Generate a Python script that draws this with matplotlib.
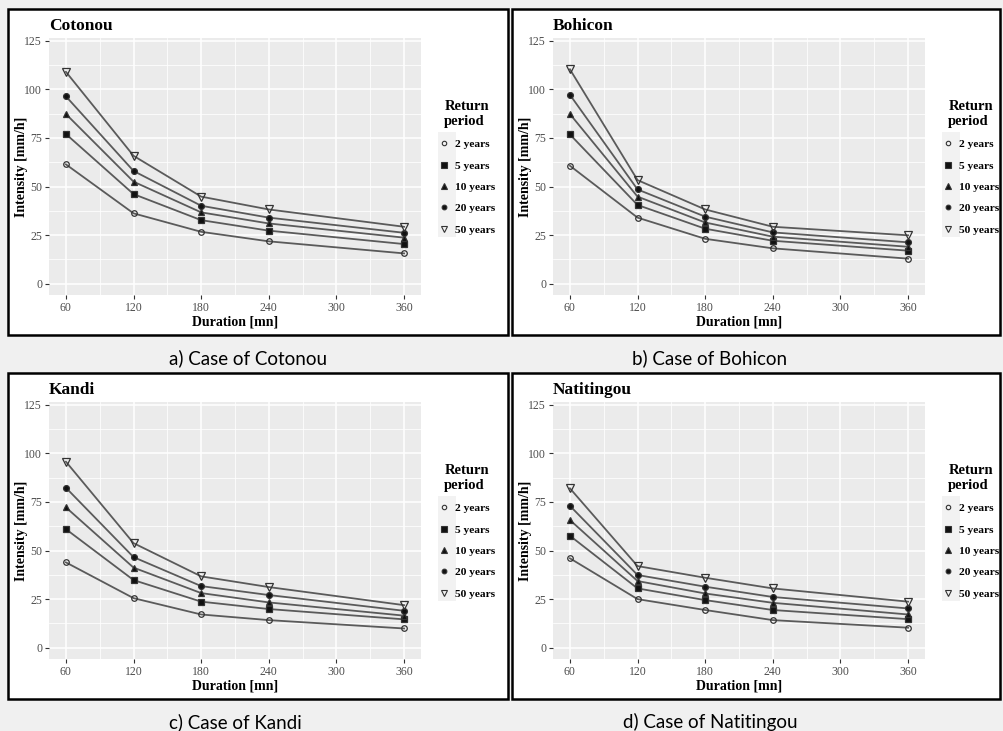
import matplotlib
matplotlib.use("Agg")
import matplotlib.pyplot as plt
from matplotlib.patches import Rectangle
from matplotlib.lines import Line2D

# ------------------------ data ------------------------
durations = [60, 120, 180, 240, 360]
periods = ['2 years', '5 years', '10 years', '20 years', '50 years']

# one list per return period (2, 5, 10, 20, 50 years)
cotonou = [[61.4, 36.2, 26.7, 21.8, 15.6],
           [77.0, 46.1, 32.7, 27.3, 20.4],
           [87.3, 52.5, 36.7, 31.0, 23.7],
           [96.4, 58.0, 40.1, 34.0, 26.2],
           [109.0, 65.8, 44.8, 38.2, 29.3]]
bohicon = [[60.7, 34.0, 23.1, 18.2, 12.9],
           [76.8, 40.5, 28.3, 22.1, 17.0],
           [87.3, 44.8, 31.5, 24.2, 19.0],
           [97.2, 48.5, 34.5, 26.4, 21.3],
           [110.3, 53.3, 38.2, 29.3, 24.9]]
kandi = [[43.9, 25.5, 17.1, 14.2, 9.9],
         [61.0, 34.8, 23.7, 19.9, 14.6],
         [72.2, 41.2, 28.1, 23.3, 16.5],
         [82.3, 46.6, 31.7, 27.1, 19.0],
         [95.7, 53.8, 36.7, 31.2, 21.9]]
natitingou = [[46.0, 25.0, 19.4, 14.2, 10.3],
              [57.6, 30.5, 24.5, 19.4, 14.7],
              [65.7, 34.3, 27.9, 23.1, 17.1],
              [73.0, 37.4, 31.4, 26.1, 20.2],
              [82.0, 42.0, 36.0, 30.5, 23.7]]

stations = ['Cotonou', 'Bohicon', 'Kandi', 'Natitingou']
captions = ['a) Case of Cotonou', 'b) Case of Bohicon',
            'c) Case of Kandi', 'd) Case of Natitingou']
series = [cotonou, bohicon, kandi, natitingou]

# marker style per return period (ggplot shapes 1, 15, 17, 16, 6)
markers = ['o', 's', '^', 'o', 'v']
filled = [False, True, True, True, False]
msizes = [4.0, 4.5, 4.5, 4.2, 5.5]

#------------------------ layout helpers ------------------------------
W, H = 1004, 731
def fr(x0, y0, x1, y1):
    return [x0 / W, 1 - y1 / H, (x1 - x0) / W, (y1 - y0) / H]

fig = plt.figure(figsize=(W / 100, H / 100), dpi=100)
fig.patch.set_facecolor('#f0f0f0')

serif = 'Liberation Serif'
grey_txt = '#4d4d4d'
line_col = '#5a5a5a'

offsets = [(0, 0), (504, 0), (0, 364), (504, 364)]
cap_x = [169, 632, 169, 623]

for k in range(4):
    dx, dy = offsets[k]
    # white framed box
    bw = 500 if dx == 0 else 488
    fig.patches.append(Rectangle(((8 + dx) / W, 1 - (335 + dy) / H),
                                 bw / W, 326 / H,
                                 transform=fig.transFigure, facecolor='white',
                                 edgecolor='black', linewidth=1.8, zorder=-2))
    # legend key background
    fig.patches.append(Rectangle(((438 + dx) / W, 1 - (237 + dy) / H),
                                 18 / W, 105 / H, transform=fig.transFigure,
                                 facecolor='#f2f2f2', edgecolor='none',
                                 zorder=-1))

    ax = fig.add_axes(fr(49 + dx, 38 + dy, 421 + dx, 295 + dy))
    ax.set_facecolor('#ebebeb')
    for s in ax.spines.values():
        s.set_visible(False)

    for i in range(5):
        fc = '#111111' if filled[i] else 'none'
        ax.plot(durations, series[k][i], color=line_col, lw=1.3,
                marker=markers[i], ms=msizes[i], mfc=fc, mec='#333333',
                mew=0.9, zorder=3)

    ax.set_xlim(45, 375)
    ax.set_ylim(-5.8, 126.4)
    ax.set_xticks([60, 120, 180, 240, 300, 360])
    ax.set_xticks([90, 150, 210, 270, 330], minor=True)
    ax.set_yticks([0, 25, 50, 75, 100, 125])
    ax.set_yticks([12.5, 37.5, 62.5, 87.5, 112.5], minor=True)
    ax.grid(which='major', color='white', lw=1.1)
    ax.grid(which='minor', color='white', lw=0.55)
    ax.set_axisbelow(True)
    ax.tick_params(which='major', length=3, width=0.8, color='#333333',
                   labelcolor=grey_txt, labelsize=8.5, pad=2)
    ax.tick_params(which='minor', length=0)
    for lab in ax.get_xticklabels() + ax.get_yticklabels():
        lab.set_family(serif)

    ax.set_xlabel('Duration [mn]', family=serif, weight='bold', fontsize=10,
                  labelpad=1)
    ax.set_ylabel('Intensity [mm/h]', family=serif, weight='bold', fontsize=10,
                  va='center')
    ax.yaxis.set_label_coords(-27 / 372, 0.5)
    ax.set_title(stations[k], loc='left', family=serif, weight='bold',
                 fontsize=12.5, pad=6)

    handles = [Line2D([], [], ls='none', marker=markers[i], ms=msizes[i] - 0.8,
                      mfc='#111111' if filled[i] else 'none', mec='#333333',
                      mew=0.8) for i in range(5)]
    leg = ax.legend(handles, periods, title='Return\nperiod',
                    loc='upper left', bbox_to_anchor=((430 + dx) / W, 1 - (92 + dy) / H),
                    bbox_transform=fig.transFigure, frameon=False,
                    handlelength=1.0, handletextpad=0.5, labelspacing=1.0,
                    borderpad=0.2,
                    prop={'family': serif, 'weight': 'bold', 'size': 8.2})
    leg.get_title().set_fontproperties({'family': serif, 'weight': 'bold',
                                        'size': 10.5})

    fig.text((cap_x[k]) / W, 1 - (364 + dy) / H, captions[k], ha='left',
             va='baseline', fontsize=13.5, family='Lato', color='black')

fig.savefig('out.png', dpi=100, facecolor=fig.get_facecolor())
